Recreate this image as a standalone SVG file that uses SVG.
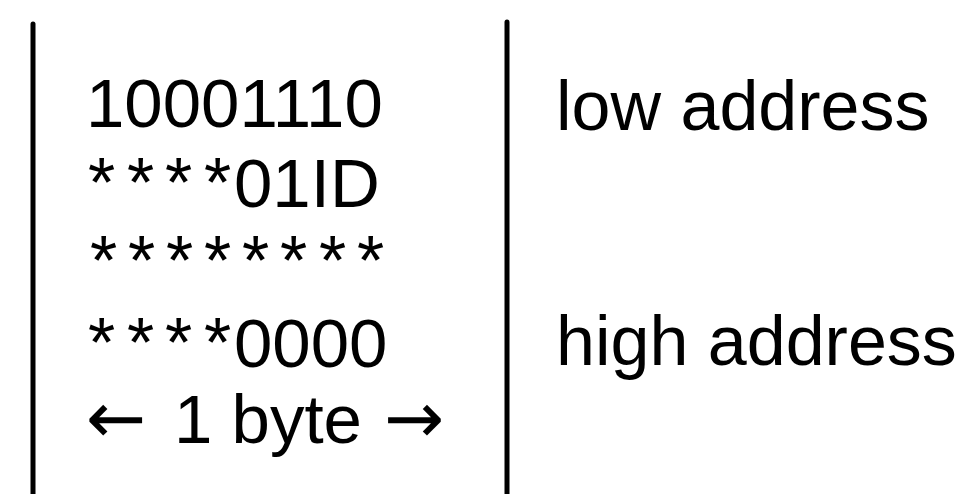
<svg xmlns="http://www.w3.org/2000/svg" width="962" height="494" viewBox="0 0 962 494">
<style>
.t{font-family:"Liberation Sans",Arial,sans-serif;fill:#000}
.d{font-size:69px}
.s{font-size:70px}
.r{font-size:70px}
.a{font-family:"DejaVu Sans",sans-serif;font-size:72px}
.bar{stroke:#000;stroke-width:5;stroke-linecap:round;fill:none}
</style>
<rect width="962" height="494" fill="#fff"/>
<g id="bars">
<line class="bar" x1="33" y1="24" x2="33" y2="500"/>
<line class="bar" x1="507" y1="22" x2="507" y2="500"/>
</g>
<g id="memory">
<text class="t d" x="86" y="127">10001110</text>
<text class="t d" y="207"><tspan class="s" x="88 127 165 204">****</tspan><tspan x="234">01ID</tspan></text>
<text class="t s" x="90 128 166 204 242 280 319 357" y="285">********</text>
<text class="t d" y="367"><tspan class="s" x="88 127 165 204">****</tspan><tspan x="234">0000</tspan></text>
<text class="t d" y="443"><tspan class="a" x="86">←</tspan><tspan x="174">1 byte</tspan><tspan class="a" x="384">→</tspan></text>
</g>
<g id="labels">
<text class="t r" x="556" y="130">low address</text>
<text class="t r" x="556" y="365">high address</text>
</g>
</svg>
